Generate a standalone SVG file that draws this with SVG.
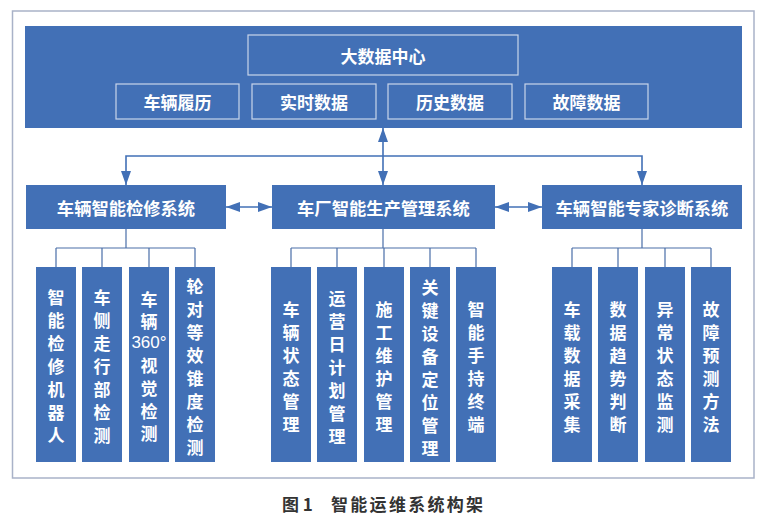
<svg xmlns="http://www.w3.org/2000/svg" width="771" height="526" viewBox="0 0 771 526">
<style>
.t{font-family:"Noto Sans CJK SC","Liberation Sans",sans-serif;font-weight:bold;fill:#fff;text-anchor:middle;dominant-baseline:central}
.box{fill:#4270b6}
.ib{fill:#4270b6;stroke:#c9d5ea;stroke-width:1.2}
.c{stroke:#4270b6;stroke-width:1.6;fill:none}
.tr{stroke:#4a6ea8;stroke-width:1.2;fill:none}
.v{font-size:17px}
.num{font-family:"Liberation Sans",Arial,sans-serif;font-weight:normal}
</style>
<defs>
<marker id="ah" markerUnits="userSpaceOnUse" markerWidth="14" markerHeight="10" refX="14" refY="5" orient="auto-start-reverse" viewBox="0 0 14 10">
<path d="M0,0 L14,5 L0,10 z" fill="#4270b6"/>
</marker>
</defs>
<rect x="12.5" y="11" width="741.5" height="467" fill="#fff" stroke="#a9b2c8" stroke-width="1.5"/>
<g id="bigdata">
<rect class="box" x="25" y="26" width="717" height="102"/>
<rect class="ib" x="248" y="35" width="270" height="40"/>
<text class="t" x="383" y="55" font-size="17">大数据中心</text>
<rect class="ib" x="116" y="84" width="123" height="35"/>
<text class="t" x="177.5" y="101.5" font-size="17">车辆履历</text>
<rect class="ib" x="252" y="84" width="124" height="35"/>
<text class="t" x="314" y="101.5" font-size="17">实时数据</text>
<rect class="ib" x="388" y="84" width="124" height="35"/>
<text class="t" x="450" y="101.5" font-size="17">历史数据</text>
<rect class="ib" x="525" y="84" width="123" height="35"/>
<text class="t" x="586.5" y="101.5" font-size="17">故障数据</text>
</g>
<g id="connectors">
<line class="c" x1="383" y1="128" x2="383" y2="185" marker-start="url(#ah)" marker-end="url(#ah)"/>
<polyline class="c" points="126,185 126,156 642,156 642,185" marker-start="url(#ah)" marker-end="url(#ah)"/>
<line class="c" x1="226" y1="207" x2="272" y2="207" marker-start="url(#ah)" marker-end="url(#ah)"/>
<line class="c" x1="495" y1="207" x2="542" y2="207" marker-start="url(#ah)" marker-end="url(#ah)"/>
<path class="tr" d="M126,229V248M56,248H195M56,248V267M102,248V267M149,248V267M195,248V267"/>
<path class="tr" d="M383,229V248M291,248H476M291,248V267M337,248V267M384,248V267M430,248V267M476,248V267"/>
<path class="tr" d="M642,229V248M572,248H711M572,248V267M618,248V267M665,248V267M711,248V267"/>
</g>
<g id="sys-left">
<rect class="box" x="26" y="185" width="200" height="44"/>
<text class="t" x="126" y="207" font-size="17.3">车辆智能检修系统</text>
</g>
<g id="sys-mid">
<rect class="box" x="272" y="185" width="223" height="44"/>
<text class="t" x="383.5" y="207" font-size="17.3">车厂智能生产管理系统</text>
</g>
<g id="sys-right">
<rect class="box" x="542" y="185" width="200" height="44"/>
<text class="t" x="642" y="207" font-size="17.3">车辆智能专家诊断系统</text>
</g>
<g id="l1"><rect class="box" x="36" y="267" width="40" height="195"/>
<text class="t v" x="56" y="296"><tspan x="56" dy="0">智</tspan><tspan x="56" dy="23">能</tspan><tspan x="56" dy="23">检</tspan><tspan x="56" dy="23">修</tspan><tspan x="56" dy="23">机</tspan><tspan x="56" dy="23">器</tspan><tspan x="56" dy="23">人</tspan></text></g>
<g id="l2"><rect class="box" x="82" y="267" width="40" height="195"/>
<text class="t v" x="102" y="296"><tspan x="102" dy="0">车</tspan><tspan x="102" dy="23">侧</tspan><tspan x="102" dy="23">走</tspan><tspan x="102" dy="23">行</tspan><tspan x="102" dy="23">部</tspan><tspan x="102" dy="23">检</tspan><tspan x="102" dy="23">测</tspan></text></g>
<g id="l3"><rect class="box" x="129" y="267" width="40" height="195"/>
<text class="t v" x="149" y="298"><tspan x="149" dy="0">车</tspan><tspan x="149" dy="22">辆</tspan><tspan class="num" x="149" dy="22">360°</tspan><tspan x="149" dy="22">视</tspan><tspan x="149" dy="23">觉</tspan><tspan x="149" dy="23">检</tspan><tspan x="149" dy="22">测</tspan></text></g>
<g id="l4"><rect class="box" x="175" y="267" width="40" height="195"/>
<text class="t v" x="195" y="284.5"><tspan x="195" dy="0">轮</tspan><tspan x="195" dy="23">对</tspan><tspan x="195" dy="23">等</tspan><tspan x="195" dy="23">效</tspan><tspan x="195" dy="23">锥</tspan><tspan x="195" dy="23">度</tspan><tspan x="195" dy="23">检</tspan><tspan x="195" dy="23">测</tspan></text></g>
<g id="m1"><rect class="box" x="271" y="267" width="40" height="195"/>
<text class="t v" x="291" y="307.5"><tspan x="291" dy="0">车</tspan><tspan x="291" dy="23">辆</tspan><tspan x="291" dy="23">状</tspan><tspan x="291" dy="23">态</tspan><tspan x="291" dy="23">管</tspan><tspan x="291" dy="23">理</tspan></text></g>
<g id="m2"><rect class="box" x="317" y="267" width="40" height="195"/>
<text class="t v" x="337" y="297"><tspan x="337" dy="0">运</tspan><tspan x="337" dy="23">营</tspan><tspan x="337" dy="23">日</tspan><tspan x="337" dy="23">计</tspan><tspan x="337" dy="23">划</tspan><tspan x="337" dy="23">管</tspan><tspan x="337" dy="23">理</tspan></text></g>
<g id="m3"><rect class="box" x="364" y="267" width="40" height="195"/>
<text class="t v" x="384" y="307.5"><tspan x="384" dy="0">施</tspan><tspan x="384" dy="23">工</tspan><tspan x="384" dy="23">维</tspan><tspan x="384" dy="23">护</tspan><tspan x="384" dy="23">管</tspan><tspan x="384" dy="23">理</tspan></text></g>
<g id="m4"><rect class="box" x="410" y="267" width="40" height="195"/>
<text class="t v" x="430" y="285.5"><tspan x="430" dy="0">关</tspan><tspan x="430" dy="23">键</tspan><tspan x="430" dy="23">设</tspan><tspan x="430" dy="23">备</tspan><tspan x="430" dy="23">定</tspan><tspan x="430" dy="23">位</tspan><tspan x="430" dy="23">管</tspan><tspan x="430" dy="23">理</tspan></text></g>
<g id="m5"><rect class="box" x="456" y="267" width="40" height="195"/>
<text class="t v" x="476" y="307.5"><tspan x="476" dy="0">智</tspan><tspan x="476" dy="23">能</tspan><tspan x="476" dy="23">手</tspan><tspan x="476" dy="23">持</tspan><tspan x="476" dy="23">终</tspan><tspan x="476" dy="23">端</tspan></text></g>
<g id="r1"><rect class="box" x="552" y="267" width="40" height="195"/>
<text class="t v" x="572" y="307.5"><tspan x="572" dy="0">车</tspan><tspan x="572" dy="23">载</tspan><tspan x="572" dy="23">数</tspan><tspan x="572" dy="23">据</tspan><tspan x="572" dy="23">采</tspan><tspan x="572" dy="23">集</tspan></text></g>
<g id="r2"><rect class="box" x="598" y="267" width="40" height="195"/>
<text class="t v" x="618" y="307.5"><tspan x="618" dy="0">数</tspan><tspan x="618" dy="23">据</tspan><tspan x="618" dy="23">趋</tspan><tspan x="618" dy="23">势</tspan><tspan x="618" dy="23">判</tspan><tspan x="618" dy="23">断</tspan></text></g>
<g id="r3"><rect class="box" x="645" y="267" width="40" height="195"/>
<text class="t v" x="665" y="307.5"><tspan x="665" dy="0">异</tspan><tspan x="665" dy="23">常</tspan><tspan x="665" dy="23">状</tspan><tspan x="665" dy="23">态</tspan><tspan x="665" dy="23">监</tspan><tspan x="665" dy="23">测</tspan></text></g>
<g id="r4"><rect class="box" x="691" y="267" width="40" height="195"/>
<text class="t v" x="711" y="307.5"><tspan x="711" dy="0">故</tspan><tspan x="711" dy="23">障</tspan><tspan x="711" dy="23">预</tspan><tspan x="711" dy="23">测</tspan><tspan x="711" dy="23">方</tspan><tspan x="711" dy="23">法</tspan></text></g>
<text x="282" y="511" font-family="Noto Sans CJK SC,Liberation Sans,sans-serif" font-weight="bold" font-size="17" fill="#333">图 1</text>
<text x="331" y="511" font-family="Noto Sans CJK SC,Liberation Sans,sans-serif" font-weight="bold" font-size="17" letter-spacing="2.3" fill="#333">智能运维系统构架</text>
</svg>
